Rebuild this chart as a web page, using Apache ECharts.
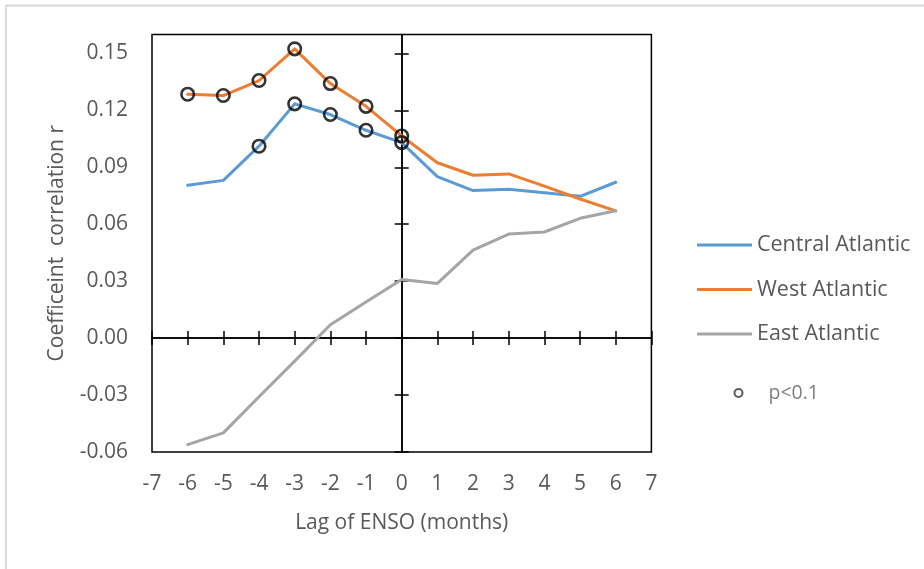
<!DOCTYPE html>
<html><head><meta charset="utf-8">
<script src="https://cdn.jsdelivr.net/npm/echarts@6/dist/echarts.min.js"></script>
<style>html,body{margin:0;padding:0;background:#fff}#c{width:924px;height:569px}</style>
</head><body><div id="c"></div>
<script>
const lags = [-6,-5,-4,-3,-2,-1,0,1,2,3,4,5,6];
const central = [0.0805,0.0831,0.1011,0.1234,0.1178,0.1095,0.1030,0.0851,0.0777,0.0784,0.0766,0.0747,0.0821];
const west = [0.1285,0.1278,0.1357,0.1524,0.1341,0.1221,0.1065,0.0924,0.0858,0.0865,0.0801,0.0733,0.0670];
const east = [-0.0561,-0.0499,-0.0309,-0.0121,0.0070,0.0190,0.0309,0.0288,0.0464,0.0548,0.0559,0.0631,0.0671];
const centralSig = [0,0,1,1,1,1,1,0,0,0,0,0,0];
const westSig = [1,1,1,1,1,1,1,0,0,0,0,0,0];
const xTicks = [-7,-6,-5,-4,-3,-2,-1,0,1,2,3,4,5,6,7];
const yTicks = [-0.06,-0.03,0,0.03,0.06,0.09,0.12,0.15];
const seriesNames = ['Central Atlantic','West Atlantic','East Atlantic'];
const sigName = 'p<0.1';

const FONT = 'Open Sans';
const TXT = '#595959';
const X_MIN = -7, X_MAX = 7, Y_MIN = -0.06, Y_MAX = 0.16;

function pts(vals){ return lags.map((x,i)=>[x, vals[i]]); }
const sigPts = [];
lags.forEach((x,i)=>{ if (westSig[i]) sigPts.push([x, west[i]]); });
lags.forEach((x,i)=>{ if (centralSig[i]) sigPts.push([x, central[i]]); });

function xLineAxis(inside){
  return {type:'value', min:X_MIN, max:X_MAX, interval:1, position:'bottom',
    axisLine:{show:true, onZero:true, lineStyle:{color:'#000', width:1.5}},
    axisTick:{show:true, inside:inside, length:7, customValues:xTicks, lineStyle:{color:'#000', width:1.5}},
    axisLabel:{show:false}, splitLine:{show:false}};
}
function yLineAxis(inside){
  return {type:'value', min:Y_MIN, max:Y_MAX, interval:0.03, position:'left',
    axisLine:{show:true, onZero:true, lineStyle:{color:'#000', width:1.5}},
    axisTick:{show:true, inside:inside, length:7, customValues:yTicks, lineStyle:{color:'#000', width:1.5}},
    axisLabel:{show:false}, splitLine:{show:false}};
}

const chart = echarts.init(document.getElementById('c'), null, {renderer:'canvas'});
chart.setOption({
  animation:false,
  backgroundColor:'#fff',
  textStyle:{fontFamily:FONT},
  graphic:[{type:'rect', shape:{x:6, y:5.5, width:2000, height:2000}, style:{fill:'none', stroke:'#d9d9d9', lineWidth:2}, silent:true}],
  grid:{left:152, right:272.6, top:34.4, bottom:117, show:true, borderColor:'#000', borderWidth:1.5, backgroundColor:'transparent'},
  xAxis:[
    {type:'value', min:X_MIN, max:X_MAX, interval:1, position:'bottom',
      axisLine:{show:false, onZero:false}, axisTick:{show:false}, splitLine:{show:false},
      axisLabel:{margin:22, fontSize:21, color:TXT, fontFamily:FONT, customValues:xTicks, formatter:v=>String(v)},
      name:'Lag of ENSO (months)', nameLocation:'middle', nameGap:61,
      nameTextStyle:{fontSize:21, color:TXT, fontFamily:FONT}},
    xLineAxis(false), xLineAxis(true)
  ],
  yAxis:[
    {type:'value', min:Y_MIN, max:Y_MAX, interval:0.03, position:'left',
      axisLine:{show:false, onZero:false}, axisTick:{show:false}, splitLine:{show:false},
      axisLabel:{margin:24, fontSize:21, color:TXT, fontFamily:FONT, customValues:yTicks, formatter:v=>v.toFixed(2)},
      name:'Coefficeint  correlation r', nameLocation:'middle', nameGap:84,
      nameTextStyle:{fontSize:21, color:TXT, fontFamily:FONT}},
    yLineAxis(false), yLineAxis(true)
  ],
  legend:[
    {data:seriesNames, orient:'vertical', left:692, top:228, icon:'rect', itemWidth:55, itemHeight:3,
      itemGap:20.5, selectedMode:false, textStyle:{fontSize:21.5, color:TXT, fontFamily:FONT, lineHeight:24}},
    {data:[{name:sigName, icon:'circle', itemStyle:{color:'none', borderColor:'#333', borderWidth:2}}],
      orient:'vertical', left:727, top:376, itemWidth:50, itemHeight:8, selectedMode:false,
      textStyle:{fontSize:19.5, color:'#7f7f7f', fontFamily:FONT, lineHeight:24}}
  ],
  series:[
    {name:seriesNames[0], type:'line', data:pts(central), showSymbol:false, symbol:'none', color:'#5B9BD5',
      lineStyle:{width:3, color:'#5B9BD5', join:'round', cap:'round'}, z:3},
    {name:seriesNames[1], type:'line', data:pts(west), showSymbol:false, symbol:'none', color:'#ED7D31',
      lineStyle:{width:3, color:'#ED7D31', join:'round', cap:'round'}, z:3},
    {name:seriesNames[2], type:'line', data:pts(east), showSymbol:false, symbol:'none', color:'#A5A5A5',
      lineStyle:{width:3, color:'#A5A5A5', join:'round', cap:'round'}, z:3},
    {name:sigName, type:'scatter', data:sigPts, symbol:'circle', symbolSize:12.5,
      itemStyle:{color:'none', borderColor:'#000', borderWidth:2.6}, z:5}
  ]
});
</script></body></html>
